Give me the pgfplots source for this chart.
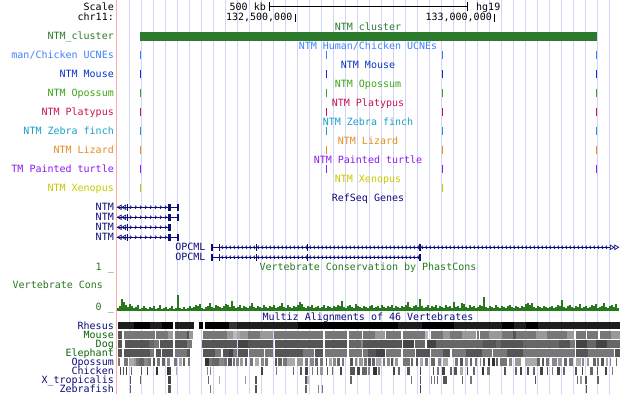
\documentclass[border=0pt]{standalone}
\usepackage{pgfplots}
\pgfplotsset{compat=1.18}
\usepackage{fontspec}
\newfontfamily\ucscfont{DejaVu Sans Mono}
\newcommand\uf{\ucscfont\fontsize{10}{12}\selectfont}
\usetikzlibrary{decorations.markings}
\definecolor{gridc}{RGB}{212,212,250}
\definecolor{pinkc}{RGB}{255,170,170}
\definecolor{clus}{RGB}{44,122,44}
\definecolor{ucne}{RGB}{64,128,250}
\definecolor{mouse}{RGB}{10,50,200}
\definecolor{opos}{RGB}{60,165,20}
\definecolor{platy}{RGB}{200,20,80}
\definecolor{zfinch}{RGB}{25,160,200}
\definecolor{lizard}{RGB}{230,140,30}
\definecolor{turtle}{RGB}{140,25,240}
\definecolor{xeno}{RGB}{200,200,0}
\definecolor{navy}{RGB}{12,12,120}
\definecolor{cons}{RGB}{40,120,30}
\definecolor{mzg}{RGB}{10,100,10}
\definecolor{c1e}{RGB}{30,30,30}
\definecolor{c33}{RGB}{51,51,51}
\definecolor{c44}{RGB}{68,68,68}
\definecolor{c55}{RGB}{85,85,85}
\definecolor{c66}{RGB}{102,102,102}
\definecolor{c77}{RGB}{119,119,119}
\definecolor{c88}{RGB}{136,136,136}
\definecolor{c99}{RGB}{153,153,153}
\definecolor{caa}{RGB}{170,170,170}
\definecolor{cbb}{RGB}{187,187,187}
\pgfplotsset{
 hb/.style 2 args={only marks, mark=*, mark size=0pt, mark options={draw=none, fill=none}, forget plot, error bars/.cd, x dir=plus, x explicit, error mark=none, error bar style={line width=#1, color=#2}},
 vb/.style 2 args={only marks, mark=*, mark size=0pt, mark options={draw=none, fill=none}, forget plot, error bars/.cd, y dir=plus, y explicit, error mark=none, error bar style={line width=#1, color=#2}},
}
\newcommand\hblk[4]{\addplot[hb={#1}{#2}] table[header=false, row sep=\\, x index=0, y expr=#3, x error expr=\thisrowno{1}-\thisrowno{0}] {#4};}
\newcommand\vtk[5]{\addplot[vb={#1}{#2}] table[header=false, row sep=\\, x index=0, y expr=#3, y error expr=#4] {#5};}
\tikzset{
 lab/.style={font=\uf, inner sep=0pt, anchor=base east},
 ttl/.style={font=\uf, inner sep=0pt, anchor=base},
 chevR/.style={postaction={decorate}, decoration={markings, mark=between positions 0 and 1 step 5pt with {\draw[navy,line width=0.7pt] (-1pt,1.6pt)--(0.6pt,0pt)--(-1pt,-1.6pt);}}},
 chevL/.style={postaction={decorate}, decoration={markings, mark=between positions 0 and 1 step 4pt with {\draw[navy,line width=0.7pt] (1pt,1.6pt)--(-0.6pt,0pt)--(1pt,-1.6pt);}}},
}
\begin{document}
\begin{tikzpicture}
\begin{axis}[name=a, width=620pt, height=394pt, scale only axis, xmin=0, xmax=620, ymin=0, ymax=394, y dir=reverse, hide axis, clip=true]
% grid
\vtk{1pt}{gridc}{0}{394}{129.5\\141.5\\153.5\\165.5\\177.5\\189.5\\201.5\\213.5\\225.5\\237.5\\249.5\\261.5\\273.5\\285.5\\297.5\\309.5\\321.5\\333.5\\345.5\\357.5\\369.5\\381.5\\393.5\\405.5\\417.5\\429.5\\441.5\\453.5\\465.5\\477.5\\489.5\\501.5\\513.5\\525.5\\537.5\\549.5\\561.5\\573.5\\585.5\\597.5\\609.5\\}
\vtk{1pt}{pinkc}{0}{394}{116.5\\}
% scale
\addplot[black, line width=1pt, forget plot] coordinates {(269,6.5) (467,6.5)};
\vtk{1pt}{black}{2}{9}{269\\467\\}
\vtk{1pt}{black}{14}{7.5}{295.3\\494.3\\}
\node[lab] at (114,10) {Scale};
\node[lab] at (114,20.7) {chr11:};
\node[lab] at (266,10) {500 kb};
\node[font=\uf, inner sep=0pt, anchor=base west] at (476,10) {hg19};
\node[lab] at (292.5,20.7) {132,500,000};
\node[lab] at (492,20.7) {133,000,000};
% cluster
\hblk{8.5pt}{clus}{36.5}{140 596.7\\}
\vtk{1.2pt}{ucne}{51}{8.3}{140.8\\326.5\\442.8\\596.5\\}
\vtk{1.2pt}{mouse}{70}{8.3}{140.8\\326.5\\442.8\\596.5\\}
\vtk{1.2pt}{opos}{89}{8.3}{140.8\\326.5\\442.8\\596.5\\}
\vtk{1.2pt}{platy}{108}{8.3}{140.8\\326.5\\442.8\\596.5\\}
\vtk{1.2pt}{zfinch}{127}{8.3}{140.8\\326.5\\442.8\\596.5\\}
\vtk{1.2pt}{lizard}{146}{8.3}{140.8\\326.5\\442.8\\596.5\\}
\vtk{1.2pt}{turtle}{165}{8.3}{140.8\\326.5\\442.8\\596.5\\}
\vtk{1.2pt}{xeno}{184}{8.3}{140.8\\442.8\\}
\node[ttl, text=clus] at (368,30) {NTM\_cluster};
\node[ttl, text=ucne] at (368,49) {NTM Human/Chicken UCNEs};
\node[ttl, text=mouse] at (368,68) {NTM Mouse};
\node[ttl, text=opos] at (368,87) {NTM Opossum};
\node[ttl, text=platy] at (368,106) {NTM Platypus};
\node[ttl, text=zfinch] at (368,125) {NTM Zebra finch};
\node[ttl, text=lizard] at (368,144) {NTM Lizard};
\node[ttl, text=turtle] at (368,163) {NTM Painted turtle};
\node[ttl, text=xeno] at (368,182) {NTM Xenopus};
\node[ttl, text=navy] at (368,201) {RefSeq Genes};
\node[lab, text=clus] at (114,39) {NTM\_cluster};
\node[lab, text=ucne] at (114,58) {man/Chicken UCNEs};
\node[lab, text=mouse] at (114,77) {NTM Mouse};
\node[lab, text=opos] at (114,96) {NTM Opossum};
\node[lab, text=platy] at (114,115) {NTM Platypus};
\node[lab, text=zfinch] at (114,134) {NTM Zebra finch};
\node[lab, text=lizard] at (114,153) {NTM Lizard};
\node[lab, text=turtle] at (114,172) {TM Painted turtle};
\node[lab, text=xeno] at (114,191) {NTM Xenopus};
% genes NTM
\addplot[navy, line width=0.9pt, forget plot] coordinates {(117,207.3) (178.3,207.3)};
\addplot[navy, line width=0.9pt, forget plot] coordinates {(117,217.3) (178.3,217.3)};
\addplot[navy, line width=0.9pt, forget plot] coordinates {(117,227.3) (170.7,227.3)};
\addplot[navy, line width=0.9pt, forget plot] coordinates {(117,237.3) (178.7,237.3)};
\addplot[navy, line width=0.9pt, chevR, forget plot] coordinates {(131,207.3) (166,207.3)};
\addplot[navy, line width=0.9pt, chevR, forget plot] coordinates {(131,217.3) (166,217.3)};
\addplot[navy, line width=0.9pt, chevR, forget plot] coordinates {(131,227.3) (166,227.3)};
\addplot[navy, line width=0.9pt, chevR, forget plot] coordinates {(131,237.3) (166,237.3)};
\vtk{1.2pt}{navy}{203.5}{7.5}{127.7\\178\\}
\vtk{1.2pt}{navy}{213.5}{7.5}{127.7\\178\\}
\vtk{1.2pt}{navy}{223.5}{7.5}{127.7\\}
\vtk{1.2pt}{navy}{233.5}{7.5}{127.7\\}
\hblk{7.5pt}{navy}{207.3}{168.3 170.7\\}
\hblk{7.5pt}{navy}{217.3}{168.3 170.7\\}
\hblk{7.5pt}{navy}{227.3}{168.3 170.7\\}
\hblk{7.5pt}{navy}{237.3}{168.3 170.7\\176.7 178.7\\}
\addplot[only marks, mark=triangle, mark size=2.6pt, mark options={rotate=90, draw=navy, fill=white, line width=0.7pt}, forget plot] coordinates {(120,207.3)(124.5,207.3)(120,217.3)(124.5,217.3)(120,227.3)(124.5,227.3)(120,237.3)(124.5,237.3)};
\node[lab, text=navy] at (114,210.3) {NTM};
\node[lab, text=navy] at (114,220.3) {NTM};
\node[lab, text=navy] at (114,230.3) {NTM};
\node[lab, text=navy] at (114,240.3) {NTM};
% OPCML
\addplot[navy, line width=0.9pt, forget plot] coordinates {(211,247.3) (610,247.3)};
\addplot[navy, line width=0.9pt, forget plot] coordinates {(211,257.3) (420,257.3)};
\addplot[navy, line width=0.9pt, chevL, forget plot] coordinates {(222,247.3) (607,247.3)};
\addplot[navy, line width=0.9pt, chevL, forget plot] coordinates {(222,257.3) (418,257.3)};
\hblk{7.5pt}{navy}{247.3}{210.7 213\\}
\hblk{7.5pt}{navy}{257.3}{210.7 213\\}
\vtk{1.2pt}{navy}{243.5}{7.5}{219.3\\256.7\\307.3\\420\\}
\vtk{1.2pt}{navy}{253.5}{7.5}{219.3\\256.7\\307.3\\420\\}
\addplot[only marks, mark=triangle, mark size=2.6pt, mark options={rotate=-90, draw=navy, fill=white, line width=0.7pt}, forget plot] coordinates {(611.5,247.3)(616,247.3)};
\node[lab, text=navy] at (205.7,250.3) {OPCML};
\node[lab, text=navy] at (205.7,260.3) {OPCML};
% conservation
\node[lab, text=cons] at (114,270) {1 \_};
\node[ttl, text=cons] at (368,270) {Vertebrate Conservation by PhastCons};
\node[font=\uf, inner sep=0pt, anchor=base west, text=cons] at (12.5,288.5) {Vertebrate Cons};
\node[lab, text=cons] at (114,310) {0 \_};
\addplot[vb={1.3pt}{cons}] table[header=false, row sep=\\, x index=0, y expr=311-\thisrowno{1}, y error expr=\thisrowno{1}] {
118 3\\120 5\\122 12\\124 9\\126 6\\128 4\\130 7\\132 5\\134 3\\136 4\\138 6\\140 2\\142 3\\144 5\\146 3\\148 2\\150 4\\152 3\\154 5\\156 2\\158 3\\160 6\\162 2\\164 3\\166 4\\168 2\\170 3\\172 5\\174 2\\176 3\\178 16\\180 3\\182 2\\184 4\\186 2\\188 3\\190 5\\192 3\\194 4\\196 6\\198 5\\200 7\\202 3\\204 2\\206 4\\208 5\\210 8\\212 4\\214 3\\216 6\\218 5\\220 4\\222 3\\224 5\\226 7\\228 6\\230 4\\232 10\\234 5\\236 3\\238 4\\240 6\\242 3\\244 5\\246 4\\248 3\\250 5\\252 8\\254 4\\256 3\\258 5\\260 4\\262 3\\264 6\\266 4\\268 3\\270 5\\272 4\\274 6\\276 3\\278 4\\280 5\\282 8\\284 4\\286 3\\288 6\\290 4\\292 3\\294 5\\296 4\\298 6\\300 9\\302 7\\304 4\\306 3\\308 5\\310 4\\312 6\\314 3\\316 4\\318 5\\320 3\\322 4\\324 6\\326 3\\328 5\\330 4\\332 3\\334 5\\336 4\\338 6\\340 5\\342 10\\344 4\\346 3\\348 5\\350 6\\352 4\\354 3\\356 7\\358 5\\360 4\\362 3\\364 5\\366 4\\368 3\\370 5\\372 6\\374 3\\376 4\\378 5\\380 3\\382 6\\384 4\\386 3\\388 5\\390 4\\392 6\\394 3\\396 5\\398 4\\400 3\\402 5\\404 4\\406 6\\408 9\\410 4\\412 3\\414 5\\416 6\\418 4\\420 12\\422 5\\424 3\\426 4\\428 6\\430 3\\432 5\\434 4\\436 6\\438 3\\440 5\\442 4\\444 3\\446 6\\448 4\\450 5\\452 3\\454 9\\456 4\\458 5\\460 3\\462 8\\464 7\\466 4\\468 3\\470 6\\472 4\\474 5\\476 3\\478 4\\480 6\\482 5\\484 14\\486 4\\488 3\\490 5\\492 4\\494 3\\496 6\\498 4\\500 3\\502 5\\504 4\\506 3\\508 5\\510 6\\512 4\\514 3\\516 5\\518 4\\520 3\\522 5\\524 4\\526 7\\528 8\\530 6\\532 8\\534 4\\536 3\\538 5\\540 4\\542 3\\544 5\\546 4\\548 3\\550 4\\552 5\\554 3\\556 4\\558 6\\560 5\\562 11\\564 4\\566 3\\568 5\\570 6\\572 4\\574 3\\576 5\\578 4\\580 7\\582 3\\584 4\\586 5\\588 3\\590 4\\592 6\\594 5\\596 7\\598 3\\600 4\\602 5\\604 8\\606 4\\608 3\\610 5\\612 6\\614 4\\616 7\\618 3\\
};
% multiz
\node[ttl, text=navy] at (368,320) {Multiz Alignments of 46 Vertebrates};
\node[lab, text=navy] at (114,329.5) {Rhesus};
\node[lab, text=mzg] at (114,338.5) {Mouse};
\node[lab, text=mzg] at (114,347.5) {Dog};
\node[lab, text=mzg] at (114,356.5) {Elephant};
\node[lab, text=navy] at (114,365.5) {Opossum};
\node[lab, text=navy] at (114,374.5) {Chicken};
\node[lab, text=navy] at (114,383.5) {X\_tropicalis};
\node[lab, text=navy] at (114,392.5) {Zebrafish};
% Rhesus
\hblk{7.5pt}{c1e}{325.7}{118 133.7\\149.7 162\\174.7 193.7\\237.3 298\\398.3 421.5\\454 501.5\\514 526\\537.5 620\\}
\hblk{7.5pt}{black}{325.7}{133.7 149.7\\162 173\\199.3 202.7\\204.7 229.3\\298 398.3\\421.5 454\\501.5 514\\526 537.5\\}
\hblk{7.5pt}{c33}{325.7}{229.3 237.3\\}
% Mouse
\hblk{7.5pt}{c55}{335}{118.3 122.3\\186.7 189.3\\513 515.7\\}
\hblk{7.5pt}{c77}{335}{124 155\\156 168.3\\175 186.7\\202.7 226.7\\248.3 260\\274 323.3\\325.3 346.7\\349.3 361.7\\362.7 375\\386 400.7\\403.3 424.7\\430.7 443.3\\450 462.3\\476.7 479\\480 489.3\\501.7 513\\515.7 535.7\\546.7 566.7\\575.7 585.7\\587.3 598.3\\600 611.3\\}
\hblk{7.5pt}{c99}{335}{168.3 172.7\\189.3 192.7\\226.7 232.7\\240 248.3\\260 273.3\\375 385\\443.3 450\\462.3 475.7\\489.3 501.7\\535.7 546.7\\566.7 574\\611.3 620\\}
\hblk{7.5pt}{cbb}{335}{232.7 237.3\\424.7 428\\}
\hblk{7.5pt}{caa}{335}{237.3 240\\}
% Dog
\hblk{7.5pt}{c55}{344}{118.3 122.3\\125 149\\160 172.7\\175 186.7\\201.7 237.3\\248.3 272.7\\275 323.3\\325.3 346.7\\363.3 401.7\\482.7 495.7\\501.3 523.3\\559.3 570\\}
\hblk{7.5pt}{c66}{344}{149 154\\349.3 360.7\\414.7 425.3\\436.3 482.7\\495.7 501.3\\523.3 559.3\\586.7 596\\607 620\\}
\hblk{7.5pt}{c77}{344}{154 159.3\\186.7 191.7\\570 574.7\\}
\hblk{7.5pt}{c44}{344}{238.3 248.3\\402.7 414\\426.7 436.3\\575.7 586.7\\596 607\\}
\hblk{7.5pt}{c88}{344}{360.7 363.3\\}
% Elephant
\hblk{7.5pt}{c55}{352.8}{118.3 122.3\\124 150\\156 161\\162.3 172.7\\186.7 190\\202.7 215\\222.7 229.3\\238.3 248.3\\275 303.3\\315 323.3\\368 376.3\\416.3 429.7\\443.3 450\\465.7 481.7\\506.7 523.3\\576 588.3\\614.7 620\\}
\hblk{7.5pt}{c77}{352.8}{150 154\\175 186.7\\215 220.7\\233.3 237.3\\249.3 264\\265 273.3\\303.3 314\\325.3 346.7\\349.3 361.7\\363.3 368\\386 400.7\\403.3 415\\430.7 443.3\\451.7 465.7\\481.7 491.7\\493.3 506.7\\523.3 574.7\\588.3 614\\}
\hblk{7.5pt}{c44}{352.8}{229.3 232.7\\376.3 385.3\\}
% Opossum
\hblk{7.5pt}{c77}{361.8}{118 120.3\\123.7 128\\136 138.7\\148 151.3\\157 160.3\\174.3 177\\187.7 190.3\\208.7 212\\224.3 227\\232.7 234.7\\250 253.3\\265 268.3\\282.7 286.7\\305 308.3\\320 323.3\\341.7 344\\364 366.7\\383 385.3\\403 409.7\\424.7 428\\454.7 458\\474.7 477.3\\500 507.3\\545.7 549\\569 573.3\\597.3 599.3\\}
\hblk{7.5pt}{caa}{361.8}{129.3 133.7\\178.7 182\\255 259.3\\287.3 295\\329.3 331.7\\376.3 381.3\\419.7 423\\443 448\\525 537.3\\575.7 580.7\\605.7 608\\}
\hblk{7.5pt}{c99}{361.8}{133.7 136\\240 242.7\\296.7 303.3\\358.7 362.7\\394.7 398\\464.7 468\\514.7 521.3\\558 562.3\\586.7 589\\}
\hblk{7.5pt}{c66}{361.8}{139.3 143.7\\162 165.3\\182.7 185.3\\212 218.7\\245 247.3\\278.3 281.7\\315 318.3\\337.3 340\\372 374.7\\411.3 413\\431.3 434.7\\469.7 472\\495.7 498\\537.3 540\\564 567.3\\593.3 595.7\\615.7 617.3\\}
\hblk{7.5pt}{c88}{361.8}{143.7 148\\167 170.3\\218.7 223.7\\236 238.7\\260.7 264\\310 314\\333.3 335.7\\355 357.3\\387.3 389.7\\438 441.3\\479.7 481.3\\509 512.3\\552.3 556.7\\582.3 584\\610 611.3\\}
\hblk{7.5pt}{c55}{361.8}{153 154.7\\228 232\\275 276.7\\325.7 327.3\\350 353.3\\368 370.7\\391.3 393\\416.3 418\\459.7 463\\483 484.7\\542.3 544\\600.7 604\\}
\hblk{7.5pt}{c33}{361.8}{205.3 208.7\\488 489.7\\492 494.7\\}
% Chicken
\hblk{7.5pt}{c33}{370.8}{156 158.3\\166.7 169\\373.3 376.7\\481.7 484\\}
\hblk{7.5pt}{c44}{370.8}{120 121\\126 127.3\\146.7 148\\169 170.7\\260.7 263.3\\305 308.3\\340 341.7\\356.7 360\\392.7 395\\420 420.7\\441.7 445\\466.7 468.3\\520 521.7\\540 543.3\\556.7 560\\581.7 582.7\\605 606.7\\}
\hblk{7.5pt}{c55}{370.8}{122.7 124\\140.7 141.7\\300 301.7\\316.7 318.3\\326.7 328.3\\350 355\\406.7 410\\432.7 434\\454 456.7\\504 506\\526.7 529.3\\546.7 548.3\\575 576.7\\596.7 597.7\\}
\hblk{7.5pt}{c66}{370.8}{130.7 132\\293.3 294.3\\331.7 333.3\\361.7 366.7\\398.3 400\\450 451.7\\473.3 475\\515 516.7\\533.3 535\\563.3 565\\590 592.7\\}
\hblk{7.5pt}{c77}{370.8}{276 277.3\\311.7 313.3\\378 380\\437.3 439.3\\486.7 490\\551.7 553.3\\611.7 613.3\\}
\hblk{7.5pt}{c88}{370.8}{206.7 208\\210 211.3\\368.3 370\\}
\hblk{7.5pt}{c99}{370.8}{320 323.3\\}
\hblk{7.5pt}{caa}{370.8}{176 177.3\\460 463.3\\}
% X_tropicalis
\hblk{7.5pt}{c44}{379.8}{168.3 170.7\\}
\hblk{7.5pt}{c55}{379.8}{130 131\\255 256.7\\305 307.3\\419.7 420.7\\443.3 446.7\\535 536\\585 586.7\\}
\hblk{7.5pt}{c66}{379.8}{140 141\\208 209.3\\350 351.7\\436.7 438.3\\461.7 463.3\\576.7 578.3\\597.3 599\\}
\hblk{7.5pt}{c77}{379.8}{411.3 412.3\\430.7 432.3\\434 435.3\\470 471.7\\}
\hblk{7.5pt}{c99}{379.8}{245 246\\580 581.7\\}
\hblk{7.5pt}{caa}{379.8}{218.7 220\\}
\hblk{7.5pt}{cbb}{379.8}{307.3 309.3\\}
% Zebrafish
\hblk{7.5pt}{c44}{388.8}{420 420.7\\}
\hblk{7.5pt}{c55}{388.8}{168.3 170.7\\255 257.3\\585.7 586.7\\}
\hblk{7.5pt}{c66}{388.8}{130 131\\305 306.7\\}
\hblk{7.5pt}{c77}{388.8}{210 211.3\\321.7 323.3\\}
\hblk{7.5pt}{c88}{388.8}{318.3 319.3\\}
\end{axis}
\pgfresetboundingbox
\path[use as bounding box] (a.south west) rectangle (a.north east);
\end{tikzpicture}
\end{document}
